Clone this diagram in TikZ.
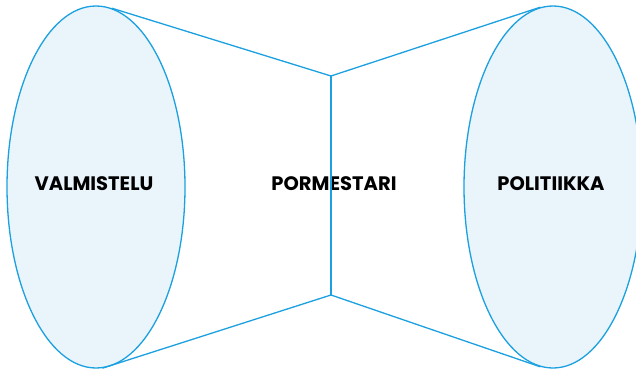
\documentclass[tikz,border=0pt]{standalone}
\usepackage{fontspec}
\setmainfont{Poppins}
\usetikzlibrary{shapes.geometric}
\definecolor{edge}{HTML}{1BA0E0}
\definecolor{fillb}{HTML}{E9F4FB}
\tikzset{
  cyl/.style={ellipse, draw=edge, fill=fillb, line width=1.3pt, minimum width=178pt, minimum height=362pt, inner sep=0pt},
  lbl/.style={font=\bfseries\fontsize{19.5}{22}\selectfont, text=black, inner sep=0pt},
  edgeline/.style={draw=edge, line width=1.3pt}
}
\begin{document}
\begin{tikzpicture}[x=1pt,y=-1pt]
\useasboundingbox (0,0) rectangle (636,372);
\node[cyl] (left) at (96,187) {};
\node[cyl] (right) at (553,187) {};
\coordinate (ct) at (331,76);
\coordinate (cb) at (331,295);
\node[lbl] (t1) at (94,184) {VALMISTELU};
\node[lbl] (t2) at (334,184) {PORMESTARI};
\node[lbl] (t3) at (551,184) {POLITIIKKA};
\draw[edgeline] (left.85) -- (ct) -- (right.94);
\draw[edgeline] (left.272.5) -- (cb) -- (right.266);
\draw[edgeline] (ct) -- (cb);
\end{tikzpicture}
\end{document}
